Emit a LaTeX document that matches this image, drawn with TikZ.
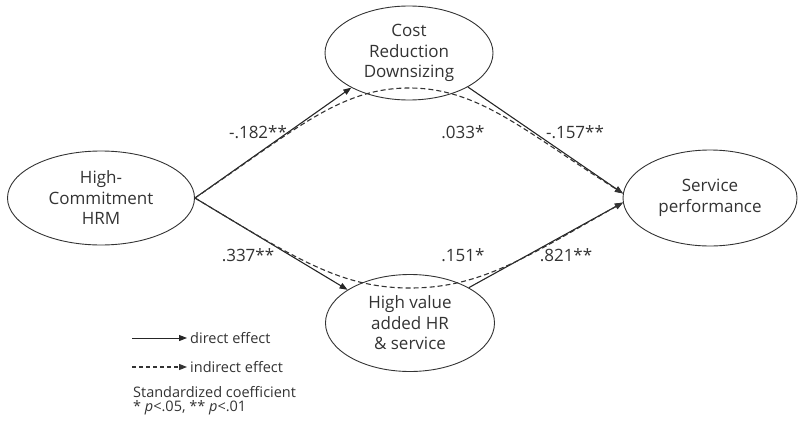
\documentclass[tikz,border=0pt]{standalone}
\usepackage{fontspec}
\setmainfont{Open Sans}
\usetikzlibrary{arrows.meta,shapes.geometric}
\definecolor{ink}{HTML}{333333}
\begin{document}
\begin{tikzpicture}[x=1pt,y=-1pt,
  latent/.style={ellipse,draw=ink,line width=0.9pt,inner sep=0pt,align=center,font=\fontsize{17}{20.5}\selectfont,text=ink},
  coef/.style={font=\fontsize{17}{20}\selectfont,text=ink,inner sep=0pt},
  direct/.style={draw=black!85,line width=1.1pt,-{Triangle[length=8pt,width=6pt]}},
  indirect/.style={draw=black!80,line width=1.1pt,dash pattern=on 5pt off 3pt,-{Triangle[length=8pt,width=6pt]}},
  legtext/.style={font=\fontsize{14.5}{16}\selectfont,text=ink,inner sep=0pt,anchor=west}]
\useasboundingbox (0,0) rectangle (809,423);
% latent variables
\node[latent,minimum width=187pt,minimum height=94pt] (hrm) at (101,198) {High-\\Commitment\\HRM};
\node[latent,minimum width=168pt,minimum height=94pt] (cost) at (409,53) {Cost\\Reduction\\Downsizing};
\node[latent,minimum width=169pt,minimum height=97pt] (hv) at (410,323) {High value\\added HR\\\& service};
\node[latent,minimum width=174pt,minimum height=96pt] (serv) at (710,198) {Service\\performance};
% direct effects
\draw[direct] (hrm.east) -- (cost.211);
\draw[direct] (cost.330) -- (serv.177);
\draw[direct] (hrm.east) -- (hv.152);
\draw[direct] (hv.31) -- (serv.183);
% indirect effects
\draw[indirect] (hrm.east) .. controls (295,130) and (340,88) .. (409,88)
  .. controls (478,88) and (523,130) .. (serv.177);
\draw[indirect] (hrm.east) .. controls (295,258) and (340,288) .. (410,288)
  .. controls (480,288) and (525,258) .. (serv.183);
% coefficients
\node[coef] (c1) at (258,132) {-.182**};
\node[coef] (c2) at (463,132) {.033*};
\node[coef] (c3) at (575,132) {-.157**};
\node[coef] (c4) at (248,255) {.337**};
\node[coef] (c5) at (463,255) {.151*};
\node[coef] (c6) at (566,255) {.821**};
% legend
\coordinate (l1s) at (132,338);
\coordinate (l1e) at (187,338);
\coordinate (l2s) at (132,367);
\coordinate (l2e) at (187,367);
\draw[direct,line width=1pt] (l1s) -- (l1e);
\draw[indirect,dash pattern=on 4pt off 3pt] (l2s) -- (l2e);
\node[legtext] (t1) at (190,338) {direct effect};
\node[legtext] (t2) at (190,367) {indirect effect};
\node[legtext] (t3) at (133,392) {Standardized coefficient};
\node[legtext] (t4) at (133,408) {* \textit{p}<.05, ** \textit{p}<.01};
\end{tikzpicture}
\end{document}
